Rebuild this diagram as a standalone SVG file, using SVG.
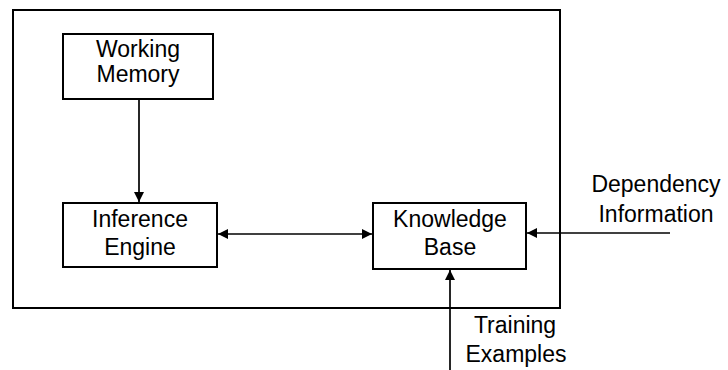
<svg xmlns="http://www.w3.org/2000/svg" width="728" height="370" viewBox="0 0 728 370">
<style>
.box{fill:#fff;stroke:#000;stroke-width:2}
.frame{fill:none;stroke:#000;stroke-width:2}
.ln{fill:none;stroke:#000;stroke-width:1.7}
text{font-family:"Liberation Sans",Arial,sans-serif;font-size:23px;fill:#000;text-anchor:middle}
</style>
<defs>
<marker id="ah" viewBox="0 0 10 10" refX="10" refY="5" markerWidth="10" markerHeight="10" markerUnits="userSpaceOnUse" orient="auto-start-reverse">
<path d="M0,0 L10,5 L0,10 z" fill="#000"/>
</marker>
</defs>
<rect class="frame" x="13" y="10" width="547" height="298"/>
<g id="connectors">
<line class="ln" x1="139" y1="99" x2="139" y2="202" marker-end="url(#ah)"/>
<line class="ln" x1="218" y1="234" x2="372" y2="234" marker-start="url(#ah)" marker-end="url(#ah)"/>
<line class="ln" x1="670" y1="233" x2="527" y2="233" marker-end="url(#ah)"/>
<line class="ln" x1="450" y1="370" x2="450" y2="270" marker-end="url(#ah)"/>
</g>
<g id="working-memory">
<rect class="box" x="63" y="34" width="150" height="65"/>
<text x="138" y="57">Working</text>
<text x="138" y="82">Memory</text>
</g>
<g id="inference-engine">
<rect class="box" x="63" y="203" width="154" height="64"/>
<text x="140" y="227">Inference</text>
<text x="140" y="255">Engine</text>
</g>
<g id="knowledge-base">
<rect class="box" x="373" y="203" width="153" height="66"/>
<text x="450" y="227">Knowledge</text>
<text x="450" y="255">Base</text>
</g>
<g id="dependency-information">
<text x="656" y="192">Dependency</text>
<text x="656" y="222">Information</text>
</g>
<g id="training-examples">
<text x="515" y="333">Training</text>
<text x="516" y="362">Examples</text>
</g>
</svg>
